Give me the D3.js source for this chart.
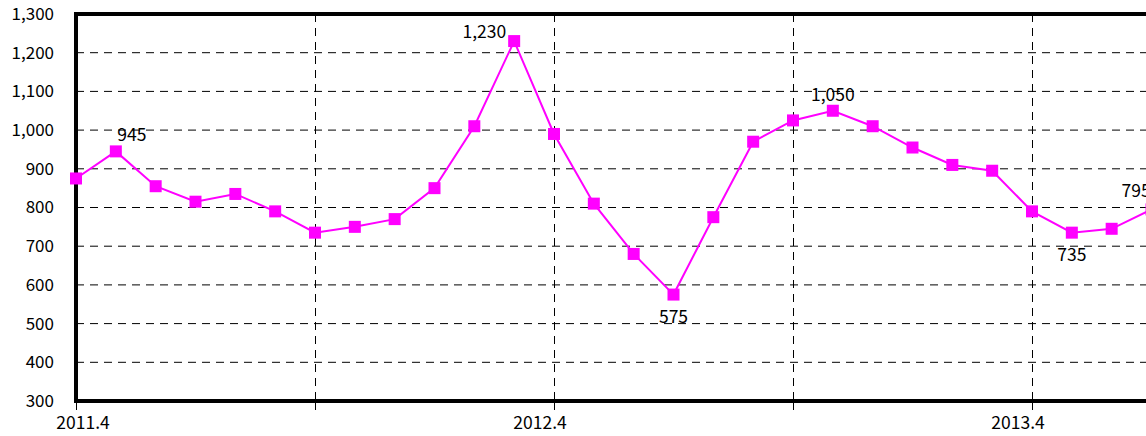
<!DOCTYPE html>
<html>
<head>
<meta charset="utf-8">
<script src="https://cdn.jsdelivr.net/npm/d3@7/dist/d3.min.js"></script>
<style>
  body { margin: 0; background: #fff; }
  svg { display: block; font-family: "Noto Sans CJK JP", "DejaVu Sans", sans-serif; }
</style>
</head>
<body>
<div id="chart"></div>
<script>
// monthly values from 2011.4
var months = ["2011.4","2011.5","2011.6","2011.7","2011.8","2011.9","2011.10","2011.11","2011.12",
  "2012.1","2012.2","2012.3","2012.4","2012.5","2012.6","2012.7","2012.8","2012.9","2012.10",
  "2012.11","2012.12","2013.1","2013.2","2013.3","2013.4","2013.5","2013.6","2013.7"];
var values = [875, 945, 855, 815, 835, 790, 735, 750, 770, 850, 1010, 1230, 990, 810, 680, 575,
  775, 970, 1025, 1050, 1010, 955, 910, 895, 790, 735, 745, 795];
var yTicks = [300, 400, 500, 600, 700, 800, 900, 1000, 1100, 1200, 1300];
var xLabels = ["2011.4", "2012.4", "2013.4"];
// which points get a value label, and where
var labelled = [
  { i: 1, pos: "aboveRight" },
  { i: 11, pos: "left" },
  { i: 15, pos: "below" },
  { i: 19, pos: "above" },
  { i: 25, pos: "below" },
  { i: 27, pos: "aboveLeft" }
];

var width = 1146, height = 436;
var margin = { top: 14, left: 76, bottom: 35 };
var plotBottom = height - margin.bottom;

var svg = d3.select("#chart").append("svg")
    .attr("width", width)
    .attr("height", height);

var x = d3.scaleLinear()
    .domain([0, 12])
    .range([margin.left, margin.left + 478]);

var y = d3.scaleLinear()
    .domain([300, 1300])
    .range([plotBottom, margin.top]);

var fmt = d3.format(",");

// horizontal grid
svg.append("g")
  .selectAll("line")
  .data(yTicks.slice(1, -1))
  .enter().append("line")
    .attr("x1", margin.left)
    .attr("x2", width)
    .attr("y1", function(d) { return y(d); })
    .attr("y2", function(d) { return y(d); })
    .attr("stroke", "#000")
    .attr("stroke-width", 1)
    .attr("stroke-dasharray", "8,6");

// vertical grid every 6 months
var vTicks = [6, 12, 18, 24];
svg.append("g")
  .selectAll("line")
  .data(vTicks)
  .enter().append("line")
    .attr("x1", function(d) { return Math.round(x(d)) + 0.5; })
    .attr("x2", function(d) { return Math.round(x(d)) + 0.5; })
    .attr("y1", margin.top)
    .attr("y2", plotBottom)
    .attr("stroke", "#000")
    .attr("stroke-width", 1)
    .attr("stroke-dasharray", "8,6");

// y axis labels
svg.append("g")
  .selectAll("text")
  .data(yTicks)
  .enter().append("text")
    .attr("x", 54)
    .attr("y", function(d) { return y(d); })
    .attr("dy", "0.35em")
    .attr("text-anchor", "end")
    .attr("font-size", 17)
    .attr("fill", "#000")
    .text(function(d) { return fmt(d); });

// x ticks
svg.append("g")
  .selectAll("line")
  .data([0, 6, 12, 18, 24])
  .enter().append("line")
    .attr("x1", function(d) { return Math.round(x(d)) + 0.5; })
    .attr("x2", function(d) { return Math.round(x(d)) + 0.5; })
    .attr("y1", plotBottom - 4)
    .attr("y2", plotBottom + 9)
    .attr("stroke", "#000")
    .attr("stroke-width", 1);

// labels sit a little left of their tick, first one kept clear of the y labels
svg.append("g")
  .selectAll("text")
  .data(xLabels)
  .enter().append("text")
    .attr("x", function(d) { return Math.max(x(months.indexOf(d)) - 14, 83); })
    .attr("y", 429)
    .attr("text-anchor", "middle")
    .attr("font-size", 17.5)
    .attr("fill", "#000")
    .text(function(d) { return d; });

// frame: top, left, bottom
svg.append("path")
    .attr("d", "M" + width + "," + margin.top + "H" + margin.left + "V" + plotBottom + "H" + width)
    .attr("fill", "none")
    .attr("stroke", "#000")
    .attr("stroke-width", 4);

// series line
var line = d3.line()
    .x(function(d, i) { return x(i); })
    .y(function(d) { return y(d); });

svg.append("path")
    .datum(values)
    .attr("d", line)
    .attr("fill", "none")
    .attr("stroke", "#ff00ff")
    .attr("stroke-width", 2);

svg.append("g")
  .selectAll("rect")
  .data(values)
  .enter().append("rect")
    .attr("x", function(d, i) { return x(i) - 6; })
    .attr("y", function(d) { return y(d) - 6; })
    .attr("width", 12)
    .attr("height", 12)
    .attr("fill", "#ff00ff");

// value labels
svg.append("g")
  .selectAll("text")
  .data(labelled)
  .enter().append("text")
    .attr("x", function(d) {
      var px = x(d.i);
      if (d.pos === "left") return px - 8;
      if (d.pos === "aboveLeft") return px - 30;
      if (d.pos === "aboveRight") return px + 16;
      return px;
    })
    .attr("y", function(d) {
      var py = y(values[d.i]);
      if (d.pos === "below") return py + 28;
      if (d.pos === "left") return py - 3;
      if (d.pos === "aboveLeft") return py - 12;
      return py - 10;
    })
    .attr("text-anchor", function(d) {
      if (d.pos === "left") return "end";
      if (d.pos === "aboveLeft") return "start";
      return "middle";
    })
    .attr("font-size", 17.5)
    .attr("fill", "#000")
    .text(function(d) { return fmt(values[d.i]); });
</script>
</body>
</html>
